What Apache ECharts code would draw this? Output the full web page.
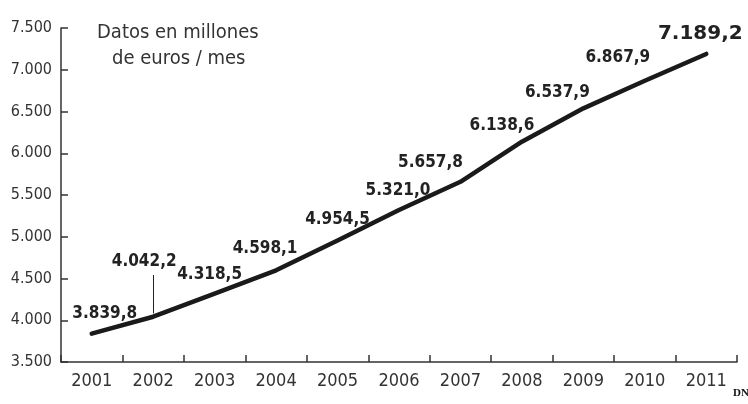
<!DOCTYPE html>
<html><head><meta charset="utf-8">
<script src="https://cdn.jsdelivr.net/npm/echarts@6/dist/echarts.min.js"></script>
<style>html,body{margin:0;padding:0;background:#fff}#c{width:748px;height:404px}</style>
</head><body><div id="c"></div>
<script>
var years = ['2001','2002','2003','2004','2005','2006','2007','2008','2009','2010','2011'];
var values = [3839.8, 4042.2, 4318.5, 4598.1, 4954.5, 5321.0, 5657.8, 6138.6, 6537.9, 6867.9, 7189.2];
var yTicks = [3500, 4000, 4500, 5000, 5500, 6000, 6500, 7000, 7500];
var noteLines = ['Datos en millones', 'de euros / mes'];
var source = 'DN';

// label offsets (style only)
var labelOffsets = [[13,-6],[-9,-41],[-5,-5],[-11,-8],[0,-7],[-1,-5],[-30,-5],[-20,-2],[-26,-2],[-27,-9],[-6,-5]];

function fmt(v, dec) {
  var s = v.toFixed(dec);
  var parts = s.split('.');
  var ip = parts[0].replace(/\B(?=(\d{3})+(?!\d))/g, '.');
  return parts.length > 1 ? ip + ',' + parts[1] : ip;
}

var FONT = '"DejaVu Sans Condensed","Liberation Sans Narrow",sans-serif';
var chart = echarts.init(document.getElementById('c'));
var data = values.map(function (v, i) {
  var last = i === values.length - 1;
  return {
    value: v,
    label: {
      offset: labelOffsets[i],
      fontSize: last ? 20 : 17,
      fontFamily: last ? '"DejaVu Sans",sans-serif' : FONT
    }
  };
});
var yMin = yTicks[0], yMax = yTicks[yTicks.length - 1];
chart.setOption({
  animation: false,
  grid: {left: 61, right: 11, top: 28, bottom: 42},
  xAxis: {
    type: 'category', data: years, boundaryGap: true,
    axisLine: {show: true, lineStyle: {color: '#333', width: 1.5}},
    axisTick: {show: true, interval: 0, inside: true, length: 7, lineStyle: {color: '#333', width: 1.5}},
    axisLabel: {fontFamily: FONT, fontSize: 18, color: '#333', margin: 10}
  },
  yAxis: [{
    type: 'value', min: yMin, max: yMax, interval: 500,
    splitLine: {show: false},
    axisLine: {show: true, onZero: false, lineStyle: {color: '#333', width: 1.5}},
    axisTick: {show: false},
    axisLabel: {fontFamily: FONT, fontSize: 16, color: '#333', margin: 9,
      formatter: function (v) { return fmt(v, 0); }}
  }, {
    // second copy of the scale, shifted 7px inward, drawing only its ticks
    type: 'value', min: yMin, max: yMax, interval: 500, position: 'left', offset: -7,
    splitLine: {show: false},
    axisLine: {show: true, onZero: false, lineStyle: {color: 'rgba(0,0,0,0)', width: 1}},
    axisTick: {show: true, inside: false, length: 7, lineStyle: {color: '#333', width: 1.5}},
    axisLabel: {show: false}
  }],
  series: [{
    type: 'line', data: data, symbol: 'circle', symbolSize: 1, showSymbol: true,
    itemStyle: {color: '#1a1a1a', opacity: 0},
    lineStyle: {color: '#1a1a1a', width: 4.5, cap: 'round', join: 'round'},
    label: {show: true, position: 'top', fontWeight: 'bold', color: '#222', opacity: 1,
      formatter: function (p) { return fmt(p.value, 1); }},
    markLine: {
      silent: true, symbol: 'none', label: {show: false},
      lineStyle: {color: '#222', width: 1, type: 'solid'},
      data: [[{coord: [1, values[1] + 40]}, {coord: [1, values[1] + 500]}]]
    }
  }],
  graphic: [
    {type: 'text', left: 97, top: 23, style: {text: noteLines[0], font: '20px ' + FONT, fill: '#333'}},
    {type: 'text', left: 112, top: 49, style: {text: noteLines[1], font: '20px ' + FONT, fill: '#333'}},
    {type: 'text', left: 733, top: 388, style: {text: source, font: 'bold 11px "Liberation Serif",serif', fill: '#111'}}
  ]
});
</script></body></html>
